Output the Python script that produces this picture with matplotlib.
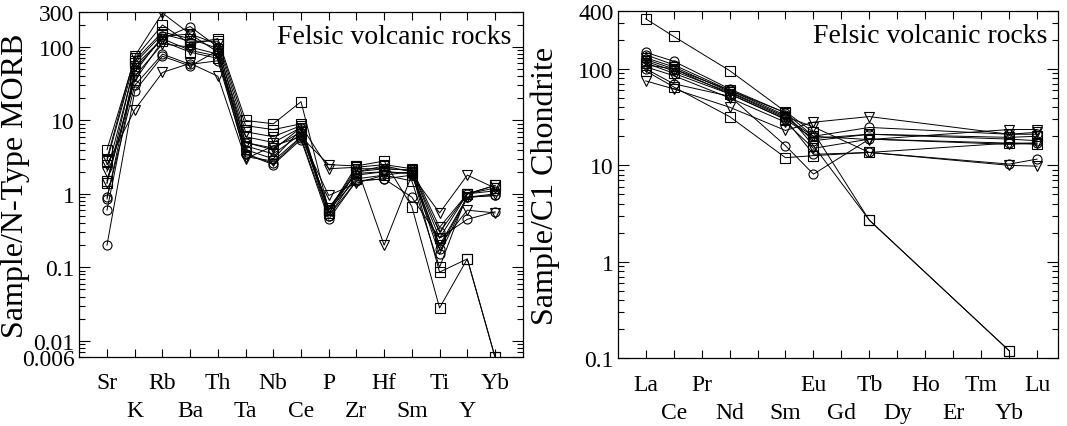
import numpy as np
import matplotlib
matplotlib.use("Agg")
import matplotlib.pyplot as plt
from matplotlib.ticker import LogLocator, NullFormatter

plt.rcParams['font.family'] = ['Liberation Serif', 'DejaVu Serif']

# spider diagram elements (N-MORB normalised)
spider_elems = ['Sr', 'K', 'Rb', 'Ba', 'Th', 'Ta', 'Nb', 'Ce', 'P', 'Zr', 'Hf', 'Sm', 'Ti', 'Y', 'Yb']
# REE axis
ree_elems = ['La', 'Ce', 'Pr', 'Nd', '', 'Sm', 'Eu', 'Gd', 'Tb', 'Dy', 'Ho', 'Er', 'Tm', 'Yb', 'Lu']
ree_measured = ['La', 'Ce', 'Nd', 'Sm', 'Eu', 'Tb', 'Yb', 'Lu']

markers = ['s', 's', 'v', 'o', 's', 'o', 'o', 'v', 'o', 'v', 's', 'v']

# Sr, K, Rb, Ba, Th, Ta, Nb, Ce, P, Zr, Hf, Sm, Ti, Y, Yb
spider_vals = [
    [4.0, 70, 200, 110, 130, 10, 9.0, 18, 0.60, 2.4, 2.8, 0.67, 0.028, 0.13, 0.006],
    [1.4, 60, 150, 120, 120, 8.5, 7.5, 9.0, 0.55, 2.0, 2.4, 2.0, 0.086, 0.13, 0.006],
    [2.5, 14, 45, 60, 40, 3.0, 4.5, 6.0, 2.5, 2.4, 0.2, 1.8, 0.55, 1.8, 1.2],
    [0.2, 25, 75, 55, 90, 3.5, 2.5, 5.5, 0.45, 1.5, 1.6, 0.9, 0.25, 0.45, 0.57],
    [1.5, 35, 120, 85, 70, 4.5, 3.5, 6.5, 0.60, 1.6, 1.8, 1.5, 0.10, 1.0, 1.3],
    [0.85, 50, 130, 190, 100, 5.0, 4.0, 8.0, 0.60, 2.0, 2.2, 2.1, 0.30, 1.0, 1.1],
    [0.6, 45, 140, 150, 85, 4.0, 3.0, 7.5, 0.50, 1.8, 2.0, 1.9, 0.15, 0.9, 0.95],
    [2.0, 55, 130, 90, 75, 3.2, 2.8, 6.0, 0.95, 1.4, 1.8, 2.0, 0.20, 0.6, 0.55],
    [0.9, 30, 80, 58, 65, 3.5, 2.6, 5.8, 0.50, 1.5, 1.6, 1.8, 0.18, 0.9, 0.95],
    [3.0, 75, 290, 150, 110, 7.0, 6.0, 8.5, 2.2, 2.3, 2.5, 2.2, 0.35, 1.0, 1.3],
    [2.8, 65, 160, 130, 95, 6.0, 5.0, 8.0, 0.60, 2.2, 2.2, 2.1, 0.25, 1.0, 1.2],
    [1.4, 40, 110, 100, 80, 5.0, 4.2, 7.0, 0.65, 1.9, 2.0, 1.9, 0.20, 0.9, 1.0],
]

# La, Ce, Nd, Sm, Eu, Tb, Yb, Lu (C1 chondrite normalised)
ree_vals = [
    [330, 217, 96, 36, 22, 2.7, 0.12, np.nan],
    [110, 100, 60, 35, 16, 2.7, 0.12, np.nan],
    [75, 62, 40, 23, 28, 32, 21, 22],
    [100, 70, 52, 16, 8.1, 18.7, 17, 17],
    [95, 65, 32, 12, 12.6, 13.6, 17, 16.5],
    [148, 120, 62, 35, 20, 24.7, 21, 21],
    [140, 110, 60, 33, 18, 21, 18.7, 18],
    [130, 105, 58, 32, 25, 13.6, 10, 9.8],
    [125, 100, 55, 30, 13, 13.6, 10.3, 11.6],
    [120, 95, 57, 31, 20, 18.5, 23.5, 23.5],
    [115, 90, 55, 30, 19, 21, 19.5, 20],
    [105, 85, 50, 28, 15, 18.7, 16.5, 17],
]

fig = plt.figure(figsize=(10.67, 4.27), dpi=100)
ax1 = fig.add_axes([0.0743, 0.1616, 0.4156, 0.808])
ax2 = fig.add_axes([0.5795, 0.1585, 0.4121, 0.814])

style = dict(color='black', lw=0.7, mfc='none', mec='black', mew=0.8, ms=6.5)

x1 = np.arange(1, len(spider_elems) + 1)
for vals, m in zip(spider_vals, markers):
    ax1.plot(x1, vals, marker=m, **style)

ree_pos = [ree_elems.index(e) + 1 for e in ree_measured]
for vals, m in zip(ree_vals, markers):
    v = np.array(vals, dtype=float)
    ok = ~np.isnan(v)
    ax2.plot(np.array(ree_pos)[ok], v[ok], marker=m, **style)


def stagger(names):
    return [n if i % 2 == 0 else '\n' + n for i, n in enumerate(names)]


for ax in (ax1, ax2):
    ax.set_yscale('log')
    ax.tick_params(which='both', direction='in', top=True, right=True, labelsize=17)
    ax.tick_params(which='major', length=8, width=0.8)
    ax.tick_params(which='minor', length=4, width=0.8)
    ax.tick_params(axis='x', which='major', length=6, pad=11)
    ax.yaxis.set_minor_locator(LogLocator(base=10, subs=np.arange(2, 10)))
    ax.yaxis.set_minor_formatter(NullFormatter())
    for sp in ax.spines.values():
        sp.set_linewidth(0.9)
    ax.text(0.975, 0.93, 'Felsic volcanic rocks', transform=ax.transAxes,
            ha='right', va='center', fontsize=20)

ax1.set_xlim(0, 16)
ax1.set_ylim(0.006, 300)
ax1.set_xticks(x1)
ax1.set_xticklabels(stagger(spider_elems), linespacing=1.45)
ax1.set_yticks([0.006, 0.01, 0.1, 1, 10, 100, 300])
ax1.set_yticklabels(['0.006', '0.01', '0.1', '1', '10', '100', '300'])
ax1.set_ylabel('Sample/N-Type MORB', fontsize=23)
ax1.yaxis.set_label_coords(-0.111, 0.5)

ax2.set_xlim(0.02, 15.75)
ax2.set_ylim(0.1, 400)
ax2.set_xticks(np.arange(1, len(ree_elems) + 1))
ax2.set_xticklabels(stagger(ree_elems), linespacing=1.45)
ax2.set_yticks([0.1, 1, 10, 100, 400])
ax2.set_yticklabels(['0.1', '1', '10', '100', '400'])
ax2.set_ylabel('Sample/C1 Chondrite', fontsize=23)
ax2.yaxis.set_label_coords(-0.133, 0.5)

fig.savefig('out.png', dpi=100)
